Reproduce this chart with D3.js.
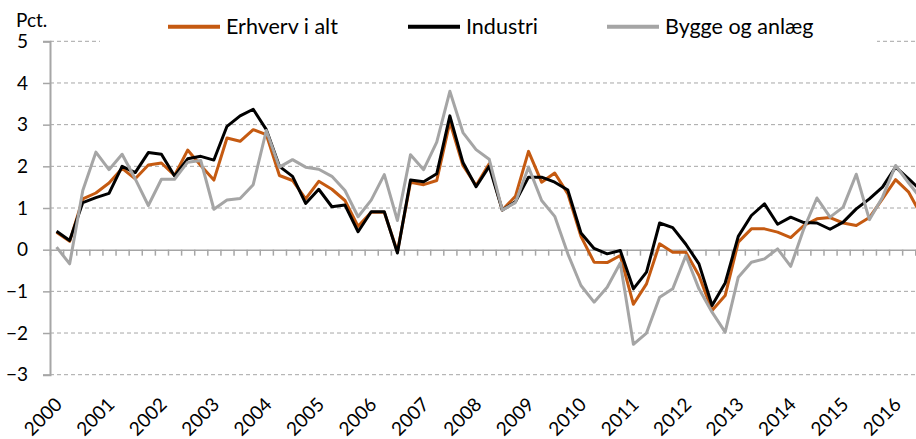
<!DOCTYPE html>
<html>
<head>
<meta charset="utf-8">
<script src="https://cdn.jsdelivr.net/npm/d3@7"></script>
<style>
    body { margin: 0; background: #fff; }
    svg { display: block; font-family: Lato, "Open Sans", sans-serif; }
</style>
</head>
<body>
<svg id="chart" width="916" height="439"></svg>
<script>
// quarterly values 2000K1 - 2016K3
var years = ["2000", "2001", "2002", "2003", "2004", "2005", "2006", "2007", "2008",
    "2009", "2010", "2011", "2012", "2013", "2014", "2015", "2016"];

var erhverv = [0.42, 0.2, 1.22, 1.36, 1.6, 1.95, 1.7, 2.03, 2.08, 1.78, 2.39, 2.02,
    1.67, 2.68, 2.6, 2.88, 2.76, 1.78, 1.66, 1.22, 1.64, 1.45, 1.18, 0.56,
    0.9, 0.9, -0.05, 1.62, 1.56, 1.66, 3.06, 2.02, 1.54, 2.06, 0.95, 1.28,
    2.36, 1.62, 1.84, 1.34, 0.32, -0.3, -0.31, -0.14, -1.31, -0.82, 0.14, -0.06,
    -0.06, -0.62, -1.46, -1.1, 0.18, 0.5, 0.5, 0.42, 0.29, 0.58, 0.74, 0.77,
    0.64, 0.58, 0.77, 1.22, 1.68, 1.38, 0.8];

var industri = [0.44, 0.22, 1.13, 1.25, 1.35, 2.0, 1.85, 2.33, 2.29, 1.77, 2.18, 2.24,
    2.15, 2.96, 3.21, 3.37, 2.88, 2.0, 1.76, 1.11, 1.45, 1.03, 1.07, 0.43,
    0.91, 0.91, -0.08, 1.67, 1.63, 1.82, 3.21, 2.09, 1.51, 2.0, 0.95, 1.15,
    1.74, 1.74, 1.62, 1.43, 0.4, 0.03, -0.1, -0.02, -0.94, -0.54, 0.64, 0.53,
    0.13, -0.34, -1.34, -0.8, 0.32, 0.82, 1.1, 0.61, 0.78, 0.65, 0.64, 0.49,
    0.66, 0.98, 1.22, 1.5, 1.98, 1.7, 1.4];

var bygge = [0.06, -0.34, 1.42, 2.34, 1.92, 2.29, 1.7, 1.06, 1.69, 1.69, 2.1, 2.14,
    0.97, 1.19, 1.23, 1.56, 2.86, 1.98, 2.16, 1.98, 1.93, 1.76, 1.42, 0.79,
    1.19, 1.8, 0.7, 2.28, 1.92, 2.58, 3.8, 2.81, 2.4, 2.17, 0.95, 1.13,
    1.98, 1.18, 0.8, -0.1, -0.86, -1.26, -0.9, -0.32, -2.27, -2.0, -1.14, -0.94,
    -0.14, -0.94, -1.5, -1.98, -0.66, -0.3, -0.22, 0.02, -0.4, 0.5, 1.24, 0.78,
    1.02, 1.81, 0.72, 1.26, 2.02, 1.6, 1.2];

var yTicks = [-3, -2, -1, 0, 1, 2, 3, 4, 5];

var series = [
    { name: "Erhverv i alt", values: erhverv, color: "#c55a11", lx: 168 },
    { name: "Industri", values: industri, color: "#000000", lx: 408 },
    { name: "Bygge og anlæg", values: bygge, color: "#a5a5a5", lx: 607 }
];

var svg = d3.select("#chart");
var nCat = erhverv.length;
var step = 13.11;
var left = 50;

var xScale = d3.scaleLinear()
    .domain([0, nCat])
    .range([left, left + nCat * step]);

var yScale = d3.scaleLinear()
    .domain([-3, 5])
    .range([374.7, 41.3]);

// dashed gridlines
svg.append("g")
    .selectAll("line")
    .data(yTicks.filter(d => d !== 0))
    .join("line")
    .attr("x1", left)
    .attr("x2", 916)
    .attr("y1", d => yScale(d))
    .attr("y2", d => yScale(d))
    .attr("stroke", "#a6a6a6")
    .attr("stroke-width", 1)
    .attr("stroke-dasharray", "4,3");

// y axis
var yAxis = d3.axisLeft(yScale)
    .tickValues(yTicks)
    .tickSize(7)
    .tickPadding(15)
    .tickFormat(d3.format("d"));

var gy = svg.append("g")
    .attr("transform", "translate(" + left + ",0)")
    .call(yAxis);
gy.select(".domain").attr("stroke", "#a6a6a6").attr("stroke-width", 2);
gy.selectAll(".tick line").attr("stroke", "#a6a6a6").attr("stroke-width", 1.5);
gy.selectAll(".tick text")
    .attr("font-size", 19)
    .attr("font-family", "Lato, sans-serif")
    .attr("fill", "#000");

// x axis on the zero line, ticks between the quarters
var xAxis = d3.axisBottom(xScale)
    .tickValues(d3.range(0, nCat + 1))
    .tickSize(6)
    .tickSizeOuter(0)
    .tickFormat("");

var gx = svg.append("g")
    .attr("transform", "translate(0," + yScale(0) + ")")
    .call(xAxis);
gx.select(".domain").attr("stroke", "#a6a6a6").attr("stroke-width", 1.5);
gx.selectAll(".tick line").attr("stroke", "#a6a6a6").attr("stroke-width", 1.5);

// year labels, one per first quarter
svg.append("g")
    .selectAll("text")
    .data(years)
    .join("text")
    .attr("transform", (d, i) => "translate(" + (xScale(i * 4 + 0.5) + 2) + ",401) rotate(-45)")
    .attr("text-anchor", "end")
    .attr("dy", "0.35em")
    .attr("font-size", 19)
    .attr("fill", "#000")
    .text(d => d);

// lines
var line = d3.line()
    .x((d, i) => xScale(i + 0.5))
    .y(d => yScale(d));

svg.append("g")
    .selectAll("path")
    .data(series)
    .join("path")
    .attr("d", d => line(d.values))
    .attr("fill", "none")
    .attr("stroke", d => d.color)
    .attr("stroke-width", 3)
    .attr("stroke-linejoin", "round");

// unit label
svg.append("text")
    .attr("x", 16)
    .attr("y", 27)
    .attr("font-size", 19)
    .attr("fill", "#000")
    .text("Pct.");

// legend sits on a white box over the top gridline
var legend = svg.append("g");
legend.append("rect")
    .attr("x", 100)
    .attr("y", 8)
    .attr("width", 777)
    .attr("height", 37)
    .attr("fill", "#fff");

var item = legend.selectAll("g")
    .data(series)
    .join("g")
    .attr("transform", d => "translate(" + d.lx + ",0)");

item.append("line")
    .attr("x1", 0)
    .attr("x2", 52)
    .attr("y1", 26.7)
    .attr("y2", 26.7)
    .attr("stroke", d => d.color)
    .attr("stroke-width", 4);

item.append("text")
    .attr("x", 58)
    .attr("y", 33.5)
    .attr("font-size", 21.5)
    .attr("fill", "#000")
    .text(d => d.name);
</script>
</body>
</html>
